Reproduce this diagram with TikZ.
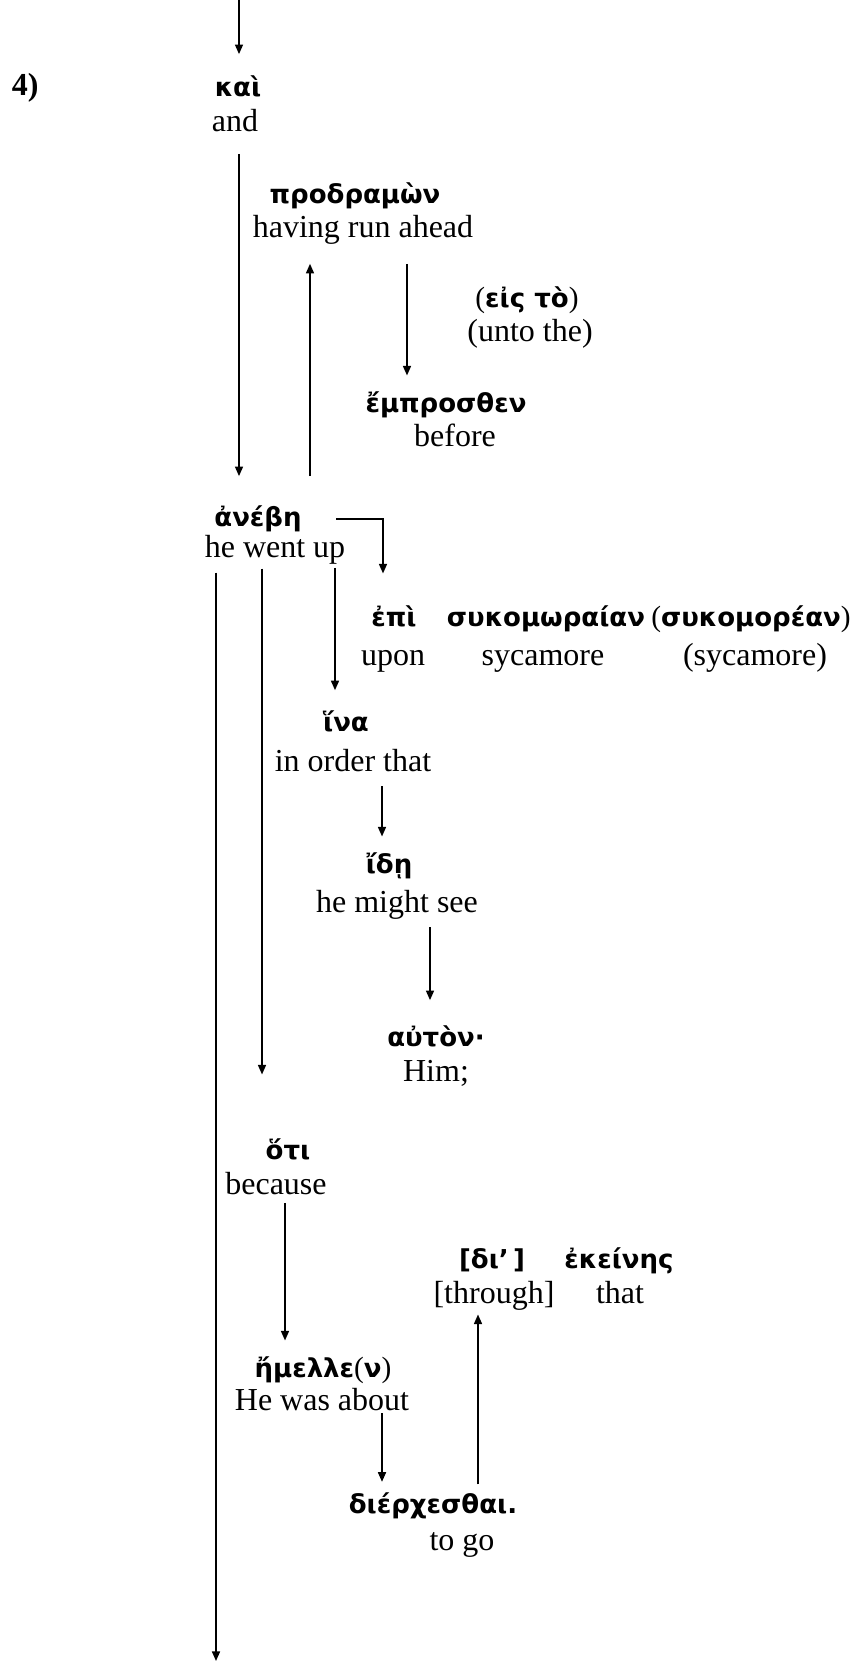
\documentclass[tikz,border=0pt]{standalone}
\usepackage{fontspec}
\setmainfont{Liberation Serif}
\newfontfamily\gkfont{DejaVu Sans}
\usetikzlibrary{arrows.meta,calc,positioning}
\tikzset{
conn/.style={-{Triangle[length=3.6pt,width=3pt]},shorten <=2.5pt,shorten >=4pt,line width=0.6pt},
gk/.style={anchor=base,inner sep=0pt,text height=9.4pt,text depth=1.9pt,font=\gkfont\bfseries\fontsize{9.75}{11}\selectfont},
en/.style={anchor=base,inner sep=0pt,text height=8.25pt,text depth=3pt,font=\fontsize{12}{14}\selectfont}
}
\newcommand{\gkl}{{\rmfamily\mdseries\fontsize{11}{12}\selectfont(}}
\newcommand{\gkr}{{\rmfamily\mdseries\fontsize{11}{12}\selectfont)}}

\begin{document}
\begin{tikzpicture}[x=0.375pt,y=-0.375pt,semithick]
			\useasboundingbox (0,0) rectangle (855,1661);
			
			%rails of the connectors
			\coordinate (top) at (239,0);
			\coordinate (rB) at (310,0);
			\coordinate (rC) at (407,0);
			\coordinate (rD) at (383,0);
			\coordinate (rE) at (216,0);
			\coordinate (rF) at (262,0);
			\coordinate (rG) at (335,0);
			\coordinate (rH) at (382,0);
			\coordinate (rI) at (430,0);
			\coordinate (rJ) at (285,0);
			\coordinate (rK) at (478,0);
			\coordinate (bot) at (216,1661);
			
			%words and glosses
			\node[en,anchor=base west,font=\fontsize{12}{14}\selectfont\bfseries] (num) at (11,95) {4)};
			\node[gk] (kai) at (238,96) {καὶ};
			\node[en] (and) at (235,131) {and};
			
			\node[gk] (prodramon) at (355,203) {προδραμὼν};
			\node[en] (having) at (363,237) {having run ahead};
			\node[gk] (eisto) at (527,307) {\gkl εἰς τὸ\gkr};
			\node[en] (unto) at (530,341) {(unto the)};
			\node[gk] (emprosthen) at (446,412) {ἔμπροσθεν};
			\node[en] (before) at (455,446) {before};
			
			\node[gk] (anebe) at (258,526) {ἀνέβη};
			\node[en] (wentup) at (275,557) {he went up};
			\node[gk] (epi) at (394,626) {ἐπὶ};
			\node[en] (upon) at (393,665) {upon};
			\node[gk] (sykom) at (546,626) {συκομωραίαν};
			\node[en] (syc) at (543,665) {sycamore};
			\node[gk] (sykomor) at (751,626) {\gkl συκομορέαν\gkr};
			\node[en] (sycb) at (755,665) {(sycamore)};
			
			\node[gk] (hina) at (346,731) {ἵνα};
			\node[en] (inorder) at (353,771) {in order that};
			\node[gk] (ide) at (389,873) {ἴδῃ};
			\node[en] (mightsee) at (397,912) {he might see};
			\node[gk] (auton) at (436,1046) {αὐτὸν·};
			\node[en] (him) at (436,1081) {Him;};
			
			\node[gk] (hoti) at (288,1159) {ὅτι};
			\node[en] (because) at (276,1194) {because};
			\node[gk] (di) at (492,1268) {[δι’\,]};
			\node[gk] (ekeines) at (619,1268) {ἐκείνης};
			\node[en] (through) at (494,1303) {[through]};
			\node[en] (that) at (620,1303) {that};
			\node[gk] (emelle) at (323,1377) {ἤμελλε\gkl ν\gkr};
			\node[en] (wasabout) at (322,1410) {He was about};
			\node[gk] (dierch) at (433,1513) {διέρχεσθαι.};
			\node[en] (togo) at (462,1550) {to go};
			
			%connectors
			\draw[conn,shorten <=0pt,shorten >=6pt] (top) -- (top |- kai.north);
			\draw[conn,shorten <=5.25pt,shorten >=9pt] (and.south -| top) -- (top |- anebe.north);
			\draw[conn,shorten <=9pt,shorten >=6.75pt] (anebe.north -| rB) -- (rB |- having.south);
			\draw[conn,shorten <=6.75pt] (having.south -| rC) -- (rC |- emprosthen.north);
			\draw[conn,shorten <=12.75pt,shorten >=10pt] ([yshift=2.6pt]anebe.base east) -| (rD |- epi.north);
			\draw[conn,shorten <=2.6pt,shorten >=0pt] (wentup.south -| rE) -- (bot);
			\draw[conn,shorten <=1.1pt,shorten >=22pt] (wentup.south -| rF) -- (rF |- hoti.north);
			\draw[conn,shorten <=0.75pt,shorten >=5.6pt] (wentup.south -| rG) -- (rG |- hina.north);
			\draw[conn] (inorder.south -| rH) -- (rH |- ide.north);
			\draw[conn,shorten >=7.5pt] (mightsee.south -| rI) -- (rI |- auton.north);
			\draw[conn,shorten <=0pt] (because.south -| rJ) -- (rJ |- emelle.north);
			\draw[conn,shorten <=-2pt,shorten >=2pt] (wasabout.south -| rH) -- (rH |- dierch.north);
			\draw[conn,shorten <=1pt,shorten >=1pt] (dierch.north -| rK) -- (rK |- through.south);
			
\end{tikzpicture}
\end{document}
